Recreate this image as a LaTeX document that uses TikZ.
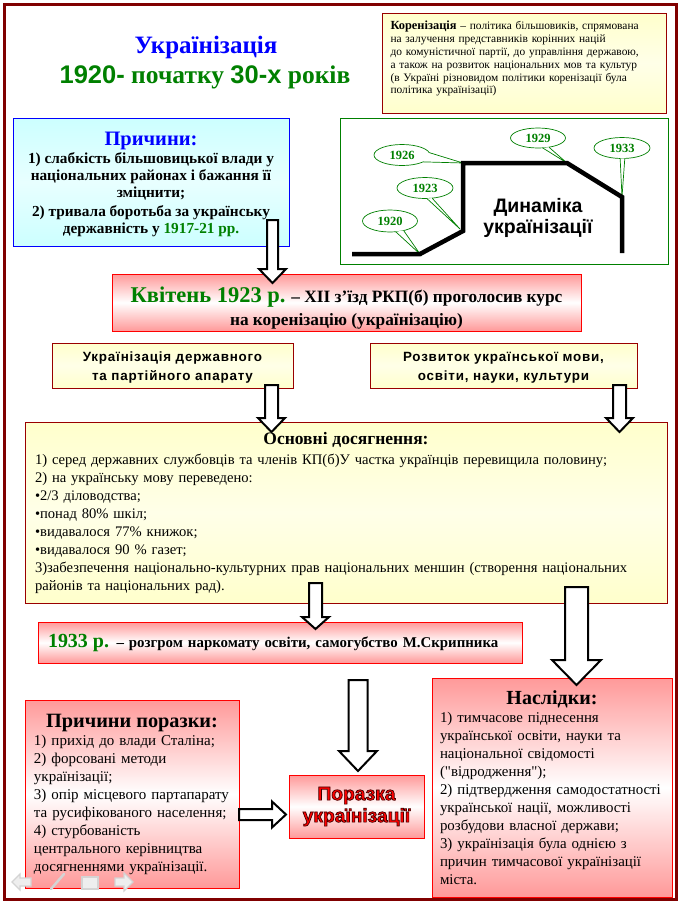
\documentclass[tikz,border=0pt]{standalone}
\usepackage{fontspec}
\setmainfont{Liberation Serif}
\setsansfont{Liberation Sans}
\newfontfamily\sansls[LetterSpace=6]{Liberation Sans}
\usetikzlibrary{calc,shapes.geometric}
\definecolor{framec}{HTML}{800000}
\definecolor{dkred}{HTML}{990000}
\definecolor{ylw}{HTML}{FFFFCC}
\definecolor{pinkc}{HTML}{FF9999}
\definecolor{cyanc}{HTML}{CCFFFF}
\definecolor{grn}{HTML}{008000}
\definecolor{blu}{HTML}{0000FF}
\definecolor{navg}{HTML}{D4D4D4}
\newcommand\fsz[2]{\fontsize{#1}{#2}\selectfont}
\newcommand\outl{\special{pdf:literal direct 0.25 0 0 RG 0.7 w 2 Tr}}
\newcommand\outloff{\special{pdf:literal direct 0 Tr}}
\newcommand\sq{{\addfontfeatures{Ligatures=TeXOff}\char34}}
\tikzset{
  every node/.style={inner sep=0pt, outer sep=0pt},
  bx/.style={draw, line width=1pt, anchor=north west},
  yel/.style={bx, draw=dkred, top color=ylw, bottom color=ylw, middle color=ylw!45!white},
  pnk/.style={bx, draw=red, top color=pinkc, bottom color=pinkc, middle color=white},
  cyb/.style={bx, draw=blu, top color=cyanc, bottom color=cyanc, middle color=cyanc!45!white},
  blockarrow/.style={draw=black, fill=white, line width=2pt, line join=miter},
  callout/.style={ellipse, draw=grn, fill=white, line width=0.7pt, text=grn,
    font=\bfseries\fsz{12.5}{14}},
  wedge/.style={draw=grn, line width=0.7pt},
  dynline/.style={line width=4.5pt, black},
  navicon/.style={draw=navg, fill=navg!40, line width=1.2pt}
}
% vertical block arrow: start, tip, shaft half width, head half width, head length
\newcommand\vblock[5]{%
  \draw[blockarrow] let \p1=(#1), \p2=(#2) in
    (\x1-#3pt,\y1) -- (\x1-#3pt,\y2+#5pt) -- (\x1-#4pt,\y2+#5pt) -- (\x1,\y2)
    -- (\x1+#4pt,\y2+#5pt) -- (\x1+#3pt,\y2+#5pt) -- (\x1+#3pt,\y1) -- cycle;}
% horizontal block arrow (to the right)
\newcommand\hblock[5]{%
  \draw[blockarrow] let \p1=(#1), \p2=(#2) in
    (\x1,\y1+#3pt) -- (\x2-#5pt,\y1+#3pt) -- (\x2-#5pt,\y1+#4pt) -- (\x2,\y1)
    -- (\x2-#5pt,\y1-#4pt) -- (\x2-#5pt,\y1-#3pt) -- (\x1,\y1-#3pt) -- cycle;}
\begin{document}
\begin{tikzpicture}[x=1pt,y=-1pt]
\useasboundingbox (0,0) rectangle (683,906);
\fill[white] (0,0) rectangle (683,906);
\draw[framec, line width=3pt] (4.5,4.5) rectangle (676.5,899.5);

% ---------- title ----------
\node[font=\bfseries\fsz{25}{28}, text=blu] (t1) at (206,47) {Українізація};
\node[font=\bfseries\fsz{25.5}{28}, text=grn] (t2) at (205,77) {{\sffamily 1920-} початку {\sffamily 30-х} років};

% ---------- definition ----------
\node[yel, minimum width=284, minimum height=100, text width=267, align=left,
      font=\fsz{11.4}{12.8}] (def) at (382,13)
 {{\bfseries\fsz{12.4}{12.8}Коренізація} – політика більшовиків, спрямована\\
  на залучення представників корінних націй\\
  до комуністичної партії, до управління державою,\\
  а також на розвиток національних мов та культур\\
  \makebox[\linewidth][s]{(в Україні різновидом політики коренізації була}\\
  політика українізації)\rule[-11pt]{0pt}{11pt}};

% ---------- causes ----------
\node[cyb, minimum width=276, minimum height=128, align=center,
      font=\bfseries\fsz{15.3}{17}] (prich) at (13,118)
 {{\color{blu}\fsz{20.5}{21}\rule{0pt}{19pt}Причини:}\\[1pt]
  1) слабкість більшовицької влади у\\
  національних районах і бажання її\\
  зміцнити;\\[2pt]
  2) тривала боротьба за українську\\
  державність у {\color{grn}1917-21 рр.}};

% ---------- dynamics ----------
\node[bx, draw=grn, fill=white, minimum width=328, minimum height=146] (dyn) at (340,118) {};
\coordinate (p1) at (352,254);
\coordinate (p2) at (420,254);
\coordinate (p3) at (463,231);
\coordinate (p4) at (463,163);
\coordinate (p5) at (567,163);
\coordinate (p6) at (622,197);
\coordinate (p7) at (622,253);
\coordinate (q3) at (460,229);

\node[callout, minimum width=55, minimum height=22] (c1920) at (390,221) {1920};
\node[callout, minimum width=56, minimum height=21] (c1923) at (425,188) {1923};
\node[callout, minimum width=56, minimum height=21] (c1926) at (402,155) {1926};
\node[callout, minimum width=55, minimum height=20] (c1929) at (538,138) {1929};
\node[callout, minimum width=56, minimum height=21] (c1933) at (622,148) {1933};

\fill[white] (c1920.-35) -- (p2) -- (c1920.-62) -- cycle;
\draw[wedge] (c1920.-35) -- (p2) -- (c1920.-62);
\fill[white] (c1923.-55) -- (q3) -- (c1923.-80) -- cycle;
\draw[wedge] (c1923.-55) -- (q3) -- (c1923.-80);
\fill[white] (c1926.5) -- (p4) -- (c1926.-18) -- cycle;
\draw[wedge] (c1926.5) -- (p4) -- (c1926.-18);
\fill[white] (c1929.-40) -- (p5) -- (c1929.-65) -- cycle;
\draw[wedge] (c1929.-40) -- (p5) -- (c1929.-65);
\fill[white] (c1933.-75) -- (p6) -- (c1933.-100) -- cycle;
\draw[wedge] (c1933.-75) -- (p6) -- (c1933.-100);

\draw[dynline] (p1) -- (p2) -- (p3) -- (p4) -- (p5) -- (p6) -- (p7);
\node[font=\sffamily\bfseries\fsz{19.5}{21}, align=center] (dynl) at (538,218) {Динаміка\\українізації};

% ---------- April 1923 ----------
\node[pnk, minimum width=469, minimum height=57, align=center,
      font=\bfseries\fsz{17.3}{23}] (kv) at (112,274)
 {{\color{grn}\fsz{22.5}{23}\rule{0pt}{26pt}Квітень 1923 р.} – ХІІ з’їзд РКП(б) проголосив курс\\
  на коренізацію (українізацію)};

% ---------- two directions ----------
\node[yel, minimum width=241, minimum height=45, align=center,
      font=\sansls\bfseries\fsz{13.4}{19}] (ua1) at (52,343)
 {\rule{0pt}{13pt}Українізація державного\\та партійного апарату};
\node[yel, minimum width=267, minimum height=45, align=center,
      font=\sansls\bfseries\fsz{13.4}{19}] (ua2) at (370,343)
 {\rule{0pt}{13pt}Розвиток української мови,\\освіти, науки, культури};

% ---------- achievements ----------
\node[yel, minimum width=642, minimum height=181, text width=622, align=left,
      font=\fsz{14.6}{18}] (ach) at (25,422)
 {{\centering\bfseries\fsz{17.5}{20}Основні досягнення:\par}\vspace{2pt}
  1) серед державних службовців та членів КП(б)У частка українців перевищила половину;\\
  2) на українську мову переведено:\\
  •2/3 діловодства;\\
  •понад 80\% шкіл;\\
  •видавалося 77\% книжок;\\
  •видавалося 90 \% газет;\\
  3)забезпечення національно-культурних прав національних меншин (створення національних\\
  районів та національних рад).};

% ---------- 1933 ----------
\node[pnk, minimum width=484, minimum height=41, text width=464, align=left,
      font=\bfseries\fsz{14.9}{18}] (y33) at (38,622)
 {{\color{grn}\fsz{20}{22}1933 р.} – розгром наркомату освіти, самогубство М.Скрипника};

% ---------- causes of defeat ----------
\node[pnk, minimum width=214, minimum height=188, text width=196, align=left,
      font=\fsz{15}{18}] (prp) at (25,700)
 {{\centering\bfseries\fsz{20.3}{21}Причини поразки:\par}
  1) прихід до влади Сталіна;\\
  2) форсовані методи\\
  українізації;\\
  3) опір місцевого партапарату\\
  та русифікованого населення;\\
  4) стурбованість\\
  центрального керівництва\\
  досягненнями українізації.};

% ---------- defeat ----------
\node[pnk, minimum width=135, minimum height=63, align=center,
      font=\sffamily\bfseries\fsz{19.2}{22}, text=red] (por) at (289,775)
 {\outl Поразка\outloff\\\outl українізації\outloff};

% ---------- consequences ----------
\node[pnk, minimum width=240, minimum height=219, text width=224, align=left,
      font=\fsz{14.9}{18}] (nasl) at (432,678)
 {{\centering\bfseries\fsz{20}{20}Наслідки:\par}
  1) тимчасове піднесення\\
  української освіти, науки та\\
  національної свідомості\\
  (\sq відродження\sq);\\
  2) підтвердження самодостатності\\
  української нації, можливості\\
  розбудови власної держави;\\
  3) українізація була однією з\\
  причин тимчасової українізації\\
  міста.};

% ---------- block arrows ----------
\coordinate (a1s) at ($(prich.south east)+(-16.5,-26)$);
\coordinate (a1e) at ($(kv.north west)+(160.5,9)$);
\coordinate (a2s) at ($(ua1.south west)+(219.5,-3)$);
\coordinate (a2e) at ($(ach.north west)+(246.5,10)$);
\coordinate (a3s) at ($(ua2.south west)+(249.5,-3)$);
\coordinate (a3e) at ($(ach.north west)+(594.5,10)$);
\coordinate (a4s) at ($(ach.south west)+(290.5,-20)$);
\coordinate (a4e) at ($(y33.north west)+(277.5,7)$);
\coordinate (a5s) at ($(ach.south west)+(551.5,-16)$);
\coordinate (a5e) at ($(nasl.north west)+(144.5,7)$);
\coordinate (a6s) at ($(y33.south west)+(320,17)$);
\coordinate (a6e) at ($(por.north west)+(69,-4)$);
\coordinate (a7s) at ($(prp.east)+(0,20.5)$);
\coordinate (a7e) at ($(por.west)+(-3,0)$);

\vblock{a1s}{a1e}{5.5}{13.5}{14}
\vblock{a2s}{a2e}{6.5}{13.5}{14}
\vblock{a3s}{a3e}{6.5}{13.5}{14}
\vblock{a4s}{a4e}{6.5}{13.5}{12}
\vblock{a5s}{a5e}{11.5}{24.5}{25}
\vblock{a6s}{a6e}{9.5}{19}{20}
\hblock{a7s}{a7e}{5.5}{13}{14}

% ---------- navigation icons ----------
\draw[navicon] (12,882) -- (20,874) -- (20,878) -- (31,878) -- (31,886) -- (20,886) -- (20,890) -- cycle;
\draw[navicon, line width=2.5pt, line cap=round] (51,889) -- (64,874);
\draw[navicon] (82,877) rectangle (98,889);
\draw[navicon] (115,878) -- (124,878) -- (124,873) -- (133,882) -- (124,891) -- (124,886) -- (115,886) -- cycle;
\end{tikzpicture}
\end{document}
